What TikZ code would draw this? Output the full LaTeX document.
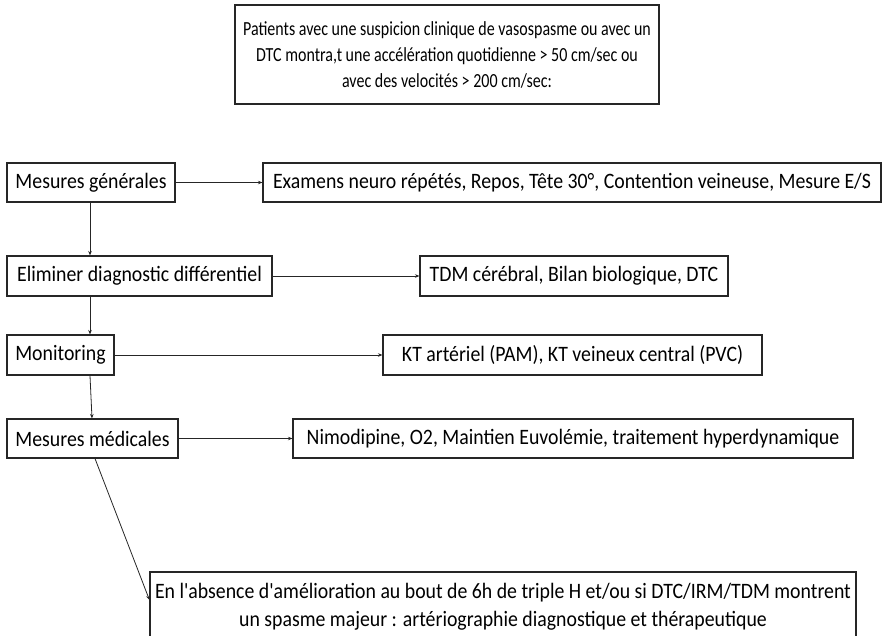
\documentclass[tikz,border=0pt]{standalone}
\usepackage{fontspec}
\setmainfont{Carlito}[FakeStretch=0.9, Ligatures=TeXOff]
\newfontfamily\critfont{Carlito}[FakeStretch=0.8, Ligatures=TeXOff]
\usetikzlibrary{arrows.meta}
\begin{document}
\begin{tikzpicture}[x=1pt,y=-1pt,
  box/.style={draw=black!85, line width=1.1pt, inner sep=0pt, align=center,
    font=\fontsize{22}{28}\selectfont},
  link/.style={draw=black!85, line width=0.8pt, -{Stealth[length=4.5pt,width=3.5pt]}}]
\useasboundingbox (0,0) rectangle (883,635);

% entry criteria
\node[box, minimum width=424pt, minimum height=99pt, font=\critfont\fontsize{20}{26}\selectfont]
  (crit) at (447,54.5)
  {Patients avec une suspicion clinique de vasospasme ou avec un\\
   DTC montra,t une accélération quotidienne > 50 cm/sec ou\\
   avec des velocités > 200 cm/sec:};

% steps on the left
\node[box, minimum width=168pt, minimum height=39pt] (gen)  at (91,182.5)  {Mesures générales};
\node[box, minimum width=265pt, minimum height=40pt] (elim) at (139.5,276) {Eliminer diagnostic différentiel};
\node[box, minimum width=107pt, minimum height=40pt] (mon)  at (60.5,355)  {Monitoring};
\node[box, minimum width=171pt, minimum height=39pt] (med)  at (92.5,438.5) {Mesures médicales};

% details on the right
\node[box, minimum width=618pt, minimum height=39pt] (exam) at (572,182.5)
  {Examens neuro répétés, Repos, Tête 30°, Contention veineuse, Mesure E/S};
\node[box, minimum width=308pt, minimum height=40pt] (tdm)  at (574,276)
  {TDM cérébral, Bilan biologique, DTC};
\node[box, minimum width=379pt, minimum height=40pt] (kt)   at (572.5,355)
  {KT artériel (PAM), KT veineux central (PVC)};
\node[box, minimum width=560pt, minimum height=39pt] (nimo) at (573,438.5)
  {Nimodipine, O2, Maintien Euvolémie, traitement hyperdynamique};

% escalation
\node[box, minimum width=706pt, minimum height=70pt] (angio) at (503,607)
  {En l'absence d'amélioration au bout de 6h de triple H et/ou si DTC/IRM/TDM montrent\\
   un spasme majeur : artériographie diagnostique et thérapeutique};

% horizontal links
\draw[link] (gen.east)  -- (exam.west);
\draw[link] (elim.east) -- (tdm.west);
\draw[link] (mon.east)  -- (kt.west);
\draw[link] (med.east)  -- (nimo.west);

% vertical chain
\draw[link] ([xshift=-1pt]gen.south) -- ([xshift=-1pt]gen.south |- elim.north);
\draw[link] ([xshift=-1pt]gen.south |- elim.south) -- ([xshift=-1pt]gen.south |- mon.north);
\draw[link] ([xshift=-1pt]gen.south |- mon.south) -- ([xshift=1pt]gen.south |- med.north);
\draw[link] ([xshift=4pt]gen.south |- med.south) -- ([yshift=7pt]angio.west);
\end{tikzpicture}
\end{document}
